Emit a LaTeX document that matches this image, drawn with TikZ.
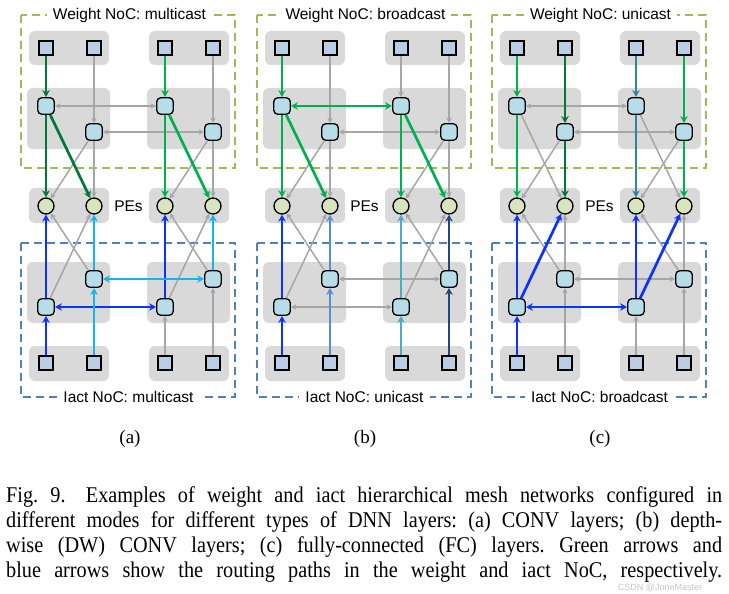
\documentclass[tikz,border=0pt]{standalone}
\usepackage{fontspec}
\setmainfont{Liberation Serif}
\setsansfont{Liberation Sans}
\newfontfamily\capfont{Liberation Serif}[FakeStretch=0.9]
\usetikzlibrary{arrows.meta}
\definecolor{boxgray}{HTML}{D9D9D9}
\definecolor{arrgray}{HTML}{A6A6A6}
\definecolor{sqblue}{HTML}{B9CDE5}
\definecolor{rtblue}{HTML}{B7DEE8}
\definecolor{pegreen}{HTML}{D7E4BD}
\definecolor{wdash}{HTML}{9BBB59}
\definecolor{idash}{HTML}{4F81BD}
\definecolor{dkgreen}{HTML}{00783C}
\definecolor{brgreen}{HTML}{00B050}
\definecolor{brblue}{HTML}{0A33FF}
\definecolor{ltblue}{HTML}{14B4F0}
\definecolor{cfblue}{HTML}{558ED5}
\definecolor{tcblue}{HTML}{4BACC6}
\definecolor{nvblue}{HTML}{1F497D}
\definecolor{tlblue}{HTML}{31849B}
\tikzset{
  gbox/.style={fill=boxgray, rounded corners=6pt},
  wbox/.style={draw=wdash, line width=2pt, dash pattern=on 8pt off 5pt},
  ibox/.style={draw=idash, line width=2pt, dash pattern=on 8pt off 5pt},
  ttl/.style={fill=white, inner xsep=6pt, inner ysep=2pt, font=\sffamily\fontsize{15.5}{18}\selectfont},
  sq/.style={draw=black, line width=1.8pt, fill=sqblue, minimum size=14.5pt, inner sep=0pt},
  rt/.style={draw=black, line width=1.3pt, fill=rtblue, rounded corners=4pt, minimum size=16.5pt, inner sep=0pt},
  pe/.style={circle, draw=black, line width=1.3pt, fill=pegreen, minimum size=16pt, inner sep=0pt},
  ga/.style={draw=arrgray, line width=1.5pt, -{Stealth[length=5.5pt,width=5.5pt]}},
  gd/.style={draw=arrgray, line width=1.5pt, {Stealth[length=5.5pt,width=5.5pt]}-{Stealth[length=5.5pt,width=5.5pt]}},
  ca/.style={line width=2.7pt, -{Stealth[length=7pt,width=7.5pt]}},
  cd/.style={line width=2.7pt, {Stealth[length=7pt,width=7.5pt]}-{Stealth[length=7pt,width=7.5pt]}},
  dg/.style={ca, draw=dkgreen},
  gr/.style={ca, draw=brgreen},
  grd/.style={cd, draw=brgreen},
  bl/.style={ca, draw=brblue},
  bld/.style={cd, draw=brblue},
  lb/.style={ca, draw=ltblue},
  lbd/.style={cd, draw=ltblue},
  cf/.style={ca, draw=cfblue},
  tc/.style={ca, draw=tcblue},
  nv/.style={ca, draw=nvblue},
  tl/.style={ca, draw=tlblue},
}
\newcommand{\drawpanel}[4]{%
 \begin{scope}[shift={(#2,0)}]
  \foreach \dx in {0,120}{%
    \fill[gbox] (29+\dx,31) rectangle (109+\dx,65);
    \fill[gbox] (27+\dx,88) rectangle (110+\dx,149);
    \fill[gbox] (29+\dx,188) rectangle (109+\dx,223);
    \fill[gbox] (27+\dx,262) rectangle (110+\dx,323);
    \fill[gbox] (29+\dx,346) rectangle (109+\dx,381);
  }
  \draw[wbox] (21,15) rectangle (235,168);
  \draw[ibox] (21,243) rectangle (235,397);
  \node[ttl] (#1-wt) at (129.5,15) {Weight NoC: #3};
  \node[ttl] (#1-it) at (128.5,397) {Iact NoC: #4};
  \node[sq] (#1-s1) at (46,48) {};
  \node[sq] (#1-s2) at (94,48) {};
  \node[sq] (#1-s3) at (165,48) {};
  \node[sq] (#1-s4) at (213,48) {};
  \node[rt] (#1-w1) at (46,106) {};
  \node[rt] (#1-w2) at (94,132) {};
  \node[rt] (#1-w3) at (165,106) {};
  \node[rt] (#1-w4) at (213,132) {};
  \node[pe] (#1-p1) at (46,206) {};
  \node[pe] (#1-p2) at (94,206) {};
  \node[pe] (#1-p3) at (165,206) {};
  \node[pe] (#1-p4) at (213,206) {};
  \node[font=\sffamily\fontsize{15.5}{18}\selectfont] (#1-pel) at (128.5,206) {PEs};
  \node[rt] (#1-i1) at (46,307) {};
  \node[rt] (#1-i2) at (94,279) {};
  \node[rt] (#1-i3) at (165,307) {};
  \node[rt] (#1-i4) at (213,279) {};
  \node[sq] (#1-b1) at (46,363) {};
  \node[sq] (#1-b2) at (94,363) {};
  \node[sq] (#1-b3) at (165,363) {};
  \node[sq] (#1-b4) at (213,363) {};
 \end{scope}}
\begin{document}
\begin{tikzpicture}[x=1pt,y=-1pt]
\fill[white] (0,0) rectangle (729,594);
\useasboundingbox (0,0) rectangle (729,594);
\drawpanel{a}{0}{multicast}{multicast}
\drawpanel{b}{236}{broadcast}{unicast}
\drawpanel{c}{471}{unicast}{broadcast}
% panel (a)
\foreach \f/\t/\s in {s2/w2/ga, s4/w4/ga, w1/w3/gd, w2/w4/gd, w2/p2/ga, w2/p1/ga, w4/p4/ga, w4/p3/ga,
  i1/p2/ga, i2/p1/ga, i3/p4/ga, i4/p3/ga, b3/i3/ga, b4/i4/ga,
  s1/w1/dg, w1/p1/dg, w1/p2/dg, s3/w3/gr, w3/p3/gr, w3/p4/gr,
  b1/i1/bl, i1/p1/bl, i1/i3/bld, i3/p3/bl, b2/i2/lb, i2/p2/lb, i2/i4/lbd, i4/p4/lb}
  {\draw[\s] (a-\f) -- (a-\t);}
% panel (b)
\foreach \f/\t/\s in {s2/w2/ga, s3/w3/ga, s4/w4/ga, w2/w4/gd, w2/p2/ga, w2/p1/ga, w4/p4/ga, w4/p3/ga,
  i1/i3/gd, i2/i4/gd, i1/p2/ga, i2/p1/ga, i3/p4/ga, i4/p3/ga,
  s1/w1/gr, w1/w3/grd, w1/p1/gr, w1/p2/gr, w3/p3/gr, w3/p4/gr,
  b1/i1/bl, i1/p1/bl, b2/i2/cf, i2/p2/cf, b3/i3/tc, i3/p3/tc, b4/i4/nv, i4/p4/nv}
  {\draw[\s] (b-\f) -- (b-\t);}
% panel (c)
\foreach \f/\t/\s in {w1/w3/gd, w2/w4/gd, w1/p2/ga, w2/p1/ga, w3/p4/ga, w4/p3/ga,
  b2/i2/ga, b3/i3/ga, b4/i4/ga, i2/i4/gd, i2/p2/ga, i2/p1/ga, i4/p4/ga, i4/p3/ga,
  s1/w1/gr, w1/p1/gr, s2/w2/dg, w2/p2/dg, s3/w3/tl, w3/p3/tl, s4/w4/gr, w4/p4/gr,
  b1/i1/bl, i1/p1/bl, i1/p2/bl, i1/i3/bld, i3/p3/bl, i3/p4/bl}
  {\draw[\s] (c-\f) -- (c-\t);}
% sub-labels
\node[font=\fontsize{19}{22}\selectfont] (la) at (130,439) {(a)};
\node[font=\fontsize{19}{22}\selectfont] (lb) at (365,439) {(b)};
\node[font=\fontsize{19}{22}\selectfont] (lc) at (600,439) {(c)};
% caption
\node[anchor=base west, inner sep=0pt] (cap) at (6,502) {\parbox[t]{716pt}{\capfont\fontsize{22.5}{25}\selectfont\frenchspacing\parfillskip=0pt
Fig.~9.\hskip 0.9em Examples of weight and iact hierarchical mesh networks configured in\linebreak
different modes for different types of DNN layers: (a) CONV layers; (b) depth-\linebreak
wise (DW) CONV layers; (c) fully-connected (FC) layers. Green arrows and\linebreak
blue arrows show the routing paths in the weight and iact NoC, respectively.\par}};
\node[font=\sffamily\fontsize{9}{11}\selectfont, text=gray!45] (wm) at (660,588) {CSDN @JoneMaster};
\end{tikzpicture}
\end{document}
